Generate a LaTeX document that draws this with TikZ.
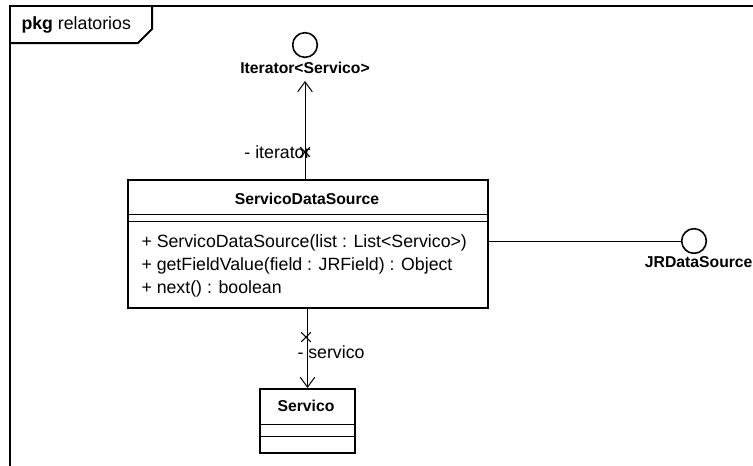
\documentclass[tikz,border=0pt]{standalone}
\usepackage{fontspec}
\setmainfont{Liberation Sans}
\usetikzlibrary{arrows.meta,positioning,shapes.misc}
\tikzset{
	>={Straight Barb[length=7.5pt,width=11pt]},
	classbox/.style = {
			draw,
			line width = 1.5pt,
			inner sep  = 0pt,
			anchor     = north west,
		},
	iface/.style = {
			circle,
			draw,
			line width   = 1.2pt,
			inner sep    = 0pt,
			minimum size = 18.5pt,
		},
	lbl/.style   = {inner sep=0pt, font=\fontsize{13.3}{15}\selectfont},
	title/.style = {inner sep=0pt, font=\fontsize{11.8}{14}\selectfont\bfseries},
	xmark/.style = {cross out, draw, inner sep=0pt, minimum size=6.5pt, line width=0.8pt}
}

\begin{document}
\begin{tikzpicture}[x=0.75pt, y=-0.75pt, line width=0.75pt]
	\useasboundingbox (0,0) rectangle (753,465);
	\clip (0,0) rectangle (753,465);

	% package frame
	\draw[line width=1.5pt] (10,480) -- (10,6) -- (770,6);
	\draw[line width=1.5pt] (152,6) -- (152,29) -- (138,43) -- (10,43);
	\node[lbl, anchor=west] (pkg) at (21,25) {\textbf{pkg} relatorios};

	% ServicoDataSource
	\node[classbox, minimum width=270pt, minimum height=96pt] (sds) at (127,179) {};
	\node[title] (sdsname) at (307,199) {ServicoDataSource};
	\draw (127,214) -- (487,214) (127,221) -- (487,221);
	\node[lbl, anchor=west] (m1) at (141,243) {+ ServicoDataSource(list : List<Servico>)};
	\node[lbl, anchor=west] (m2) at (141,266) {+ getFieldValue(field : JRField) : Object};
	\node[lbl, anchor=west] (m3) at (141,289) {+ next() : boolean};

	% Iterator<Servico>
	\node[iface] (iter) at (305,45) {};
	\node[title] (iterlbl) at (305,68) {Iterator<Servico>};
	\coordinate (itertip) at (305,81);
	\draw[->] (iter |- sds.north) -- (itertip);
	\node[xmark] (itx) at (305,152) {};
	\node[lbl, anchor=east] (itrole) at (311,152) {- iterator};

	% JRDataSource
	\node[iface] (jr) at (694,241) {};
	\node[title, anchor=east] (jrlbl) at (753,262) {JRDataSource};
	\draw (sds.east |- jr) -- (jr.west);

	% Servico
	\node[classbox, minimum width=71.25pt, minimum height=48pt] (srv) at (259,388) {};
	\node[title] (srvname) at (306,406) {Servico};
	\draw (259,424) -- (354,424) (259,436) -- (354,436);
	\draw[->] (srv.north |- sds.south) -- (srv.north);
	\node[xmark] (srx) at (306,337) {};
	\node[lbl, anchor=west] (srrole) at (297,352) {- servico};
\end{tikzpicture}
\end{document}
